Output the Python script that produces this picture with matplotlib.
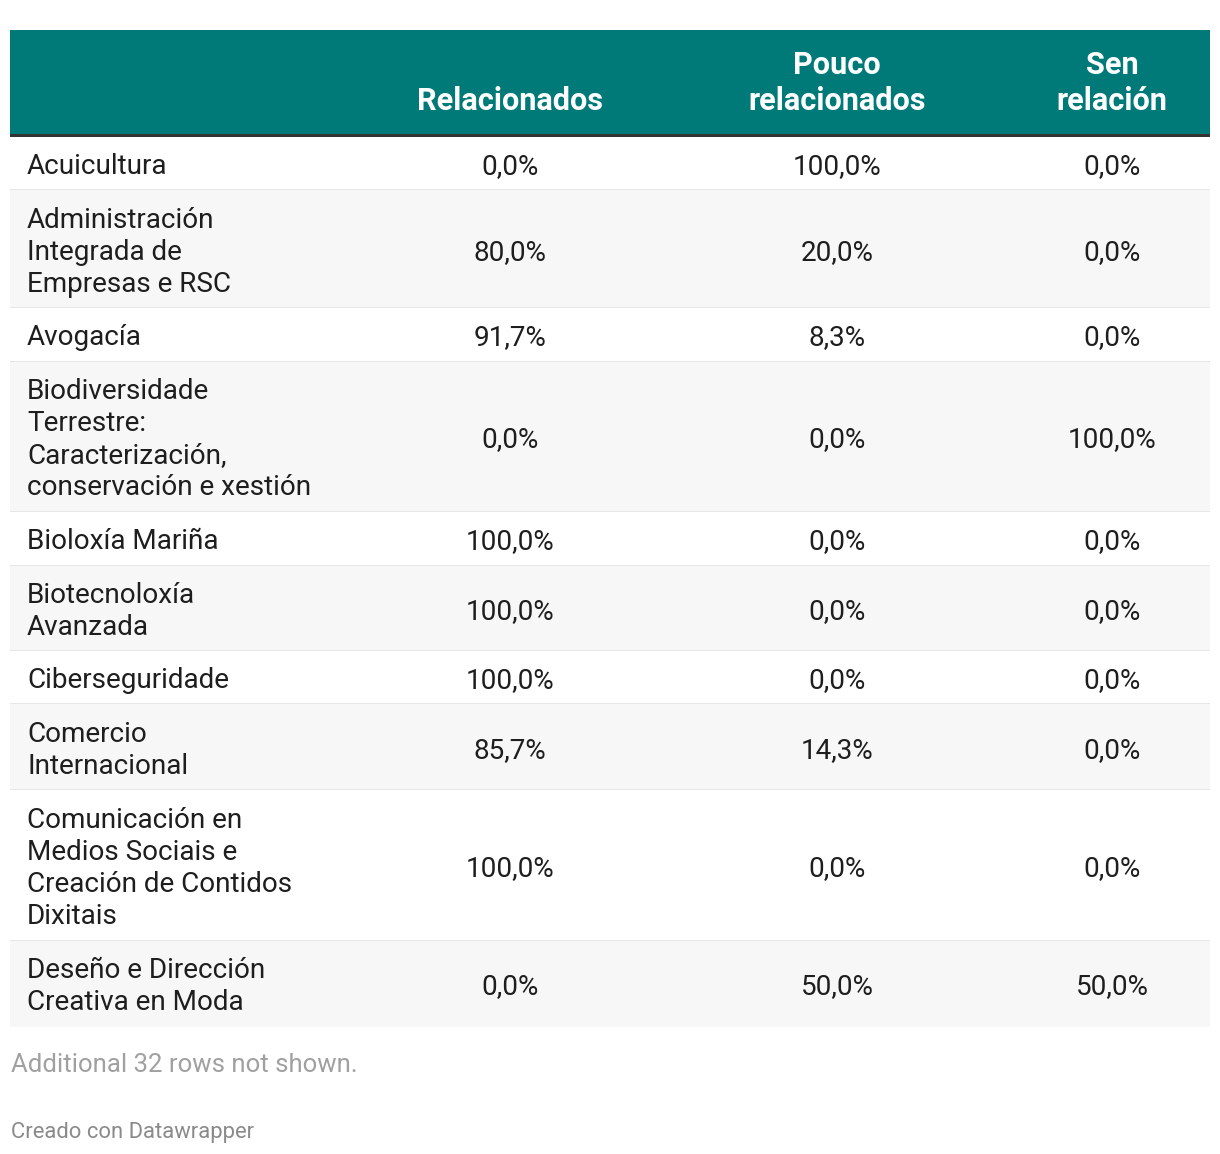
import matplotlib
matplotlib.use("Agg")
import matplotlib.pyplot as plt
from matplotlib.patches import Rectangle

# ---- data ----
columns = ["Relacionados", "Pouco\nrelacionados", "Sen\nrelación"]
categories = [
    "Acuicultura",
    "Administración\nIntegrada de\nEmpresas e RSC",
    "Avogacía",
    "Biodiversidade\nTerrestre:\nCaracterización,\nconservación e xestión",
    "Bioloxía Mariña",
    "Biotecnoloxía\nAvanzada",
    "Ciberseguridade",
    "Comercio\nInternacional",
    "Comunicación en\nMedios Sociais e\nCreación de Contidos\nDixitais",
    "Deseño e Dirección\nCreativa en Moda",
]
relacionados = [0.0, 80.0, 91.7, 0.0, 100.0, 100.0, 100.0, 85.7, 100.0, 0.0]
pouco_relacionados = [100.0, 20.0, 8.3, 0.0, 0.0, 0.0, 0.0, 14.3, 0.0, 50.0]
sen_relacion = [0.0, 0.0, 0.0, 100.0, 0.0, 0.0, 0.0, 0.0, 0.0, 50.0]
footnote = "Additional 32 rows not shown."
credit = "Creado con Datawrapper"

# ---- layout (pixels) ----
W, H = 1220, 1154
plt.rcParams['font.family'] = ['Roboto', 'DejaVu Sans']
fig = plt.figure(figsize=(W / 100, H / 100), dpi=100)
ax = fig.add_axes([0, 0, 1, 1])
ax.set_xlim(0, W)
ax.set_ylim(H, 0)
ax.axis("off")

def px(p):
    return p * 0.72

FS = px(27.9)
HFS = px(30.6)
LINE = 32
x0, x1 = 10, 1210
col_x = [510, 837, 1112]
TEAL = "#007a78"
TXT = "#1e1e1e"

# header
head_top, head_bot = 30, 134
ax.add_patch(Rectangle((x0, head_top), x1 - x0, head_bot - head_top, color=TEAL, lw=0))
ax.add_patch(Rectangle((x0, head_bot), x1 - x0, 3, color="#333333", lw=0))
for cx, name in zip(col_x, columns):
    lines = name.split("\n")
    n = len(lines)
    for i, ln in enumerate(lines):
        base = 110 - (n - 1 - i) * 36
        ax.text(cx, base, ln, ha="center", va="baseline", fontsize=HFS,
                fontweight="bold", color="white")

def fmt(v):
    return f"{v:.1f}".replace(".", ",") + "%"

y = 137
for r, cat in enumerate(categories):
    lines = cat.split("\n")
    n = len(lines)
    h = 20.5 + 32.6 * n
    bg = "white" if r % 2 == 0 else "#f7f7f7"
    ax.add_patch(Rectangle((x0, y), x1 - x0, h, color=bg, lw=0))
    if r < len(categories) - 1:
        ax.add_patch(Rectangle((x0, y + h - 1), x1 - x0, 2, color="#e6e6e6", lw=0))
    center = y + h / 2
    for i, ln in enumerate(lines):
        base = center + 10.5 + (i - (n - 1) / 2) * LINE
        ax.text(27, base, ln, ha="left", va="baseline", fontsize=FS, color=TXT)
    vals = [relacionados[r], pouco_relacionados[r], sen_relacion[r]]
    for cx, v in zip(col_x, vals):
        ax.text(cx, center + 10.5, fmt(v), ha="center", va="baseline",
                fontsize=FS, color=TXT)
    y += h

ax.text(11, 1072, footnote, ha="left", va="baseline", fontsize=px(25.8), color="#a0a0a0")
ax.text(11, 1138, credit, ha="left", va="baseline", fontsize=px(22), color="#8a8a8a")

fig.savefig("out.png", dpi=100)
